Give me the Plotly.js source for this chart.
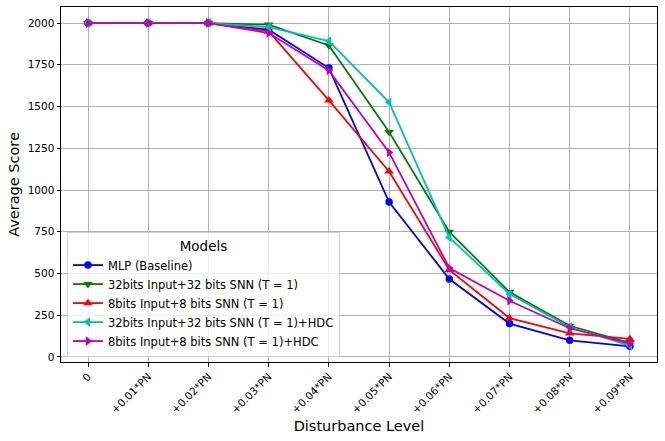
<!DOCTYPE html>
<html>
<head>
<meta charset="utf-8">
<script src="https://cdn.plot.ly/plotly-3.0.1.min.js"></script>
<style>
  html, body { margin: 0; padding: 0; background: #fff; }
  #graphDiv { width: 665px; height: 441px; }
</style>
</head>
<body>
<div id="graphDiv"></div>
<script>
// disturbance levels and scores
const levels = [0, 1, 2, 3, 4, 5, 6, 7, 8, 9]
const levelLabels = ['0', '+0.01*PN', '+0.02*PN', '+0.03*PN', '+0.04*PN',
    '+0.05*PN', '+0.06*PN', '+0.07*PN', '+0.08*PN', '+0.09*PN']

const mlp      = [2000, 2000, 2000, 1960, 1730, 928, 467, 200, 100, 64]
const snn32    = [2000, 2000, 2000, 1990, 1866, 1347, 749, 389, 187, 84]
const snn8     = [2000, 2000, 2000, 1950, 1537, 1111, 522, 233, 142, 108]
const snn32Hdc = [2000, 2000, 2000, 1975, 1892, 1525, 716, 377, 178, 68]
const snn8Hdc  = [2000, 2000, 2000, 1940, 1716, 1225, 533, 337, 172, 80]

const yTicks = [0, 250, 500, 750, 1000, 1250, 1500, 1750, 2000]

let graphDiv = document.getElementById('graphDiv')

function makeTrace(y, name, color, symbol, size) {
    return {
        x: levels,
        y: y,
        name: name,
        type: 'scatter',
        mode: 'lines+markers',
        line: { color: color, width: 1.8 },
        marker: { color: color, symbol: symbol, size: size }
    }
}

let traces = [
    makeTrace(mlp, 'MLP (Baseline)', '#0000ff', 'circle', 7.5),
    makeTrace(snn32, '32bits Input+32 bits SNN (T = 1)', '#008000', 'triangle-down', 8.5),
    makeTrace(snn8, '8bits Input+8 bits SNN (T = 1)', '#ff0000', 'triangle-up', 8.5),
    makeTrace(snn32Hdc, '32bits Input+32 bits SNN (T = 1)+HDC', '#00bfbf', 'triangle-left', 8.5),
    makeTrace(snn8Hdc, '8bits Input+8 bits SNN (T = 1)+HDC', '#bf00bf', 'triangle-right', 8.5)
]

const font = 'DejaVu Sans, sans-serif'

const layout = {
    width: 665,
    height: 441,
    margin: { l: 61, r: 8, t: 7, b: 79 },
    paper_bgcolor: '#fff',
    plot_bgcolor: '#fff',
    font: { family: font, size: 10.5, color: '#000' },
    showlegend: true,
    xaxis: {
        range: [-0.45, 9.45],
        tickmode: 'array',
        tickvals: levels,
        ticktext: levelLabels,
        tickangle: -45,
        ticks: 'outside',
        ticklen: 3.5,
        tickcolor: '#000',
        showgrid: true,
        gridcolor: '#b0b0b0',
        gridwidth: 1,
        zeroline: false,
        showline: true,
        linecolor: '#000',
        linewidth: 1,
        mirror: true,
        title: { text: 'Disturbance Level', font: { size: 14.5 }, standoff: 6 }
    },
    yaxis: {
        range: [-30, 2096],
        tickmode: 'array',
        tickvals: yTicks,
        ticktext: yTicks.map(v => String(v)),
        ticks: 'outside',
        ticklen: 3.5,
        tickcolor: '#000',
        showgrid: true,
        gridcolor: '#b0b0b0',
        gridwidth: 1,
        zeroline: false,
        showline: true,
        linecolor: '#000',
        linewidth: 1,
        mirror: true,
        title: { text: 'Average Score', font: { size: 14.5 }, standoff: 4 }
    },
    legend: {
        x: 0.01,
        y: 0.014,
        xanchor: 'left',
        yanchor: 'bottom',
        bgcolor: 'rgba(255,255,255,0.8)',
        bordercolor: '#d0d0d0',
        borderwidth: 1,
        font: { size: 11.5 },
        tracegroupgap: 0,
        itemwidth: 30,
        title: { text: 'Models', side: 'top center', font: { size: 13.5 } }
    }
}

Plotly.newPlot(graphDiv, traces, layout, { displayModeBar: false, staticPlot: true })
</script>
</body>
</html>
